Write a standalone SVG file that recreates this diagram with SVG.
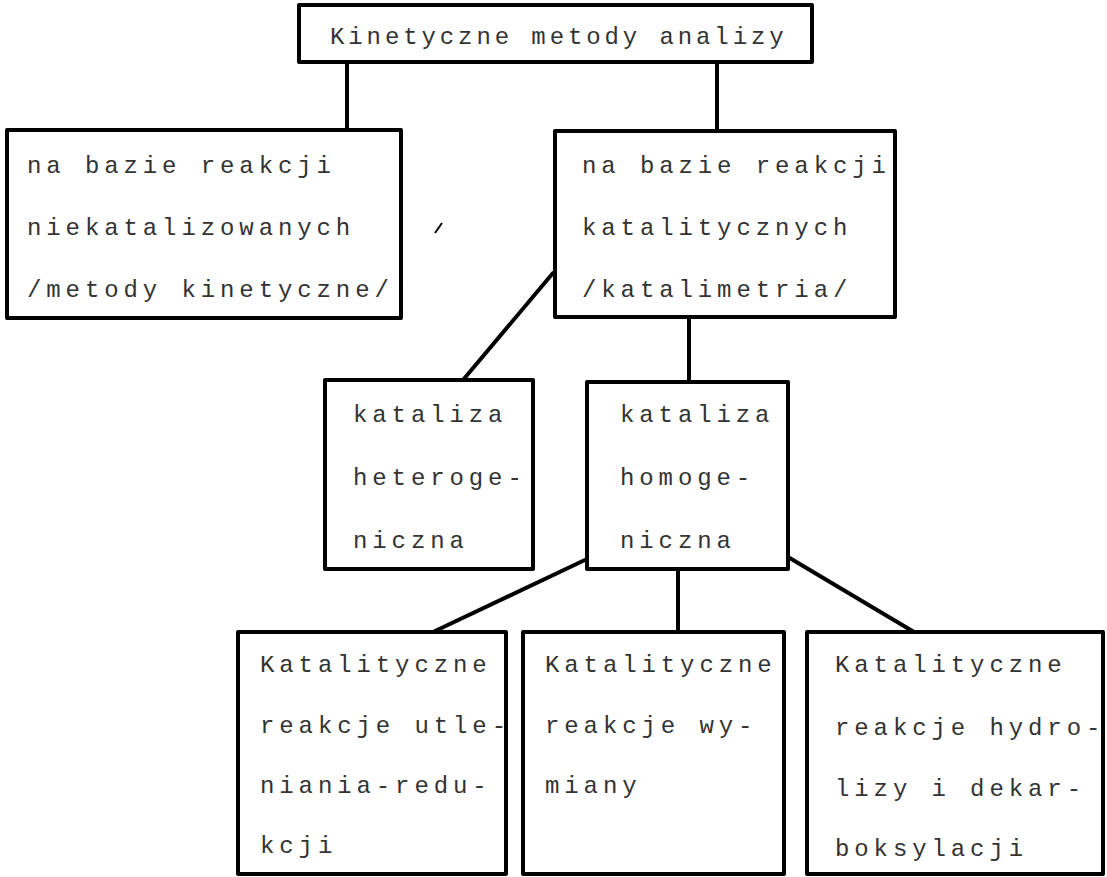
<svg xmlns="http://www.w3.org/2000/svg" width="1107" height="877" viewBox="0 0 1107 877">
<style>
.box{fill:#fff;stroke:#000;stroke-width:4;stroke-linejoin:round}
.t{font-family:"Liberation Mono","DejaVu Sans Mono",monospace;font-size:24px;letter-spacing:4.9px;fill:#333}
.t.top{letter-spacing:3.9px}
.c{stroke:#000;stroke-width:4;fill:none;stroke-linecap:round}
</style>
<rect width="1107" height="877" fill="#fff"/>
<g id="connectors">
<path class="c" d="M347 62V130"/>
<path class="c" d="M717 62V131"/>
<path class="c" d="M553 273L463 380"/>
<path class="c" d="M689 317V382"/>
<path class="c" d="M587 559L433 632"/>
<path class="c" d="M678 569V632"/>
<path class="c" d="M788 557L914 632"/>
</g>
<path d="M435 233L442 223" stroke="#000" stroke-width="2" fill="none"/>
<g id="root">
<rect class="box" x="299" y="5" width="513" height="57"/>
<text class="t top" x="330" y="44">Kinetyczne metody analizy</text>
</g>
<g id="niekatalizowane">
<rect class="box" x="7" y="130" width="394" height="188"/>
<text class="t" x="27" y="173">na bazie reakcji</text>
<text class="t" x="27" y="235">niekatalizowanych</text>
<text class="t" x="27" y="297">/metody kinetyczne/</text>
</g>
<g id="katalityczne">
<rect class="box" x="555" y="131" width="340" height="186"/>
<text class="t" x="582" y="173">na bazie reakcji</text>
<text class="t" x="582" y="235">katalitycznych</text>
<text class="t" x="582" y="297">/katalimetria/</text>
</g>
<g id="heterogeniczna">
<rect class="box" x="325" y="380" width="208" height="189"/>
<text class="t" x="353" y="422">kataliza</text>
<text class="t" x="353" y="485">heteroge-</text>
<text class="t" x="353" y="548">niczna</text>
</g>
<g id="homogeniczna">
<rect class="box" x="587" y="382" width="201" height="187"/>
<text class="t" x="620" y="422">kataliza</text>
<text class="t" x="620" y="485">homoge-</text>
<text class="t" x="620" y="548">niczna</text>
</g>
<g id="utleniania">
<rect class="box" x="238" y="632" width="268" height="242"/>
<text class="t" x="260" y="672">Katalityczne</text>
<text class="t" x="260" y="733">reakcje utle-</text>
<text class="t" x="260" y="793">niania-redu-</text>
<text class="t" x="260" y="853">kcji</text>
</g>
<g id="wymiany">
<rect class="box" x="523" y="632" width="261" height="242"/>
<text class="t" x="545" y="672">Katalityczne</text>
<text class="t" x="545" y="733">reakcje wy-</text>
<text class="t" x="545" y="793">miany</text>
</g>
<g id="hydrolizy">
<rect class="box" x="807" y="632" width="296" height="242"/>
<text class="t" x="835" y="672">Katalityczne</text>
<text class="t" x="835" y="735">reakcje hydro-</text>
<text class="t" x="835" y="796">lizy i dekar-</text>
<text class="t" x="835" y="856">boksylacji</text>
</g>
</svg>
